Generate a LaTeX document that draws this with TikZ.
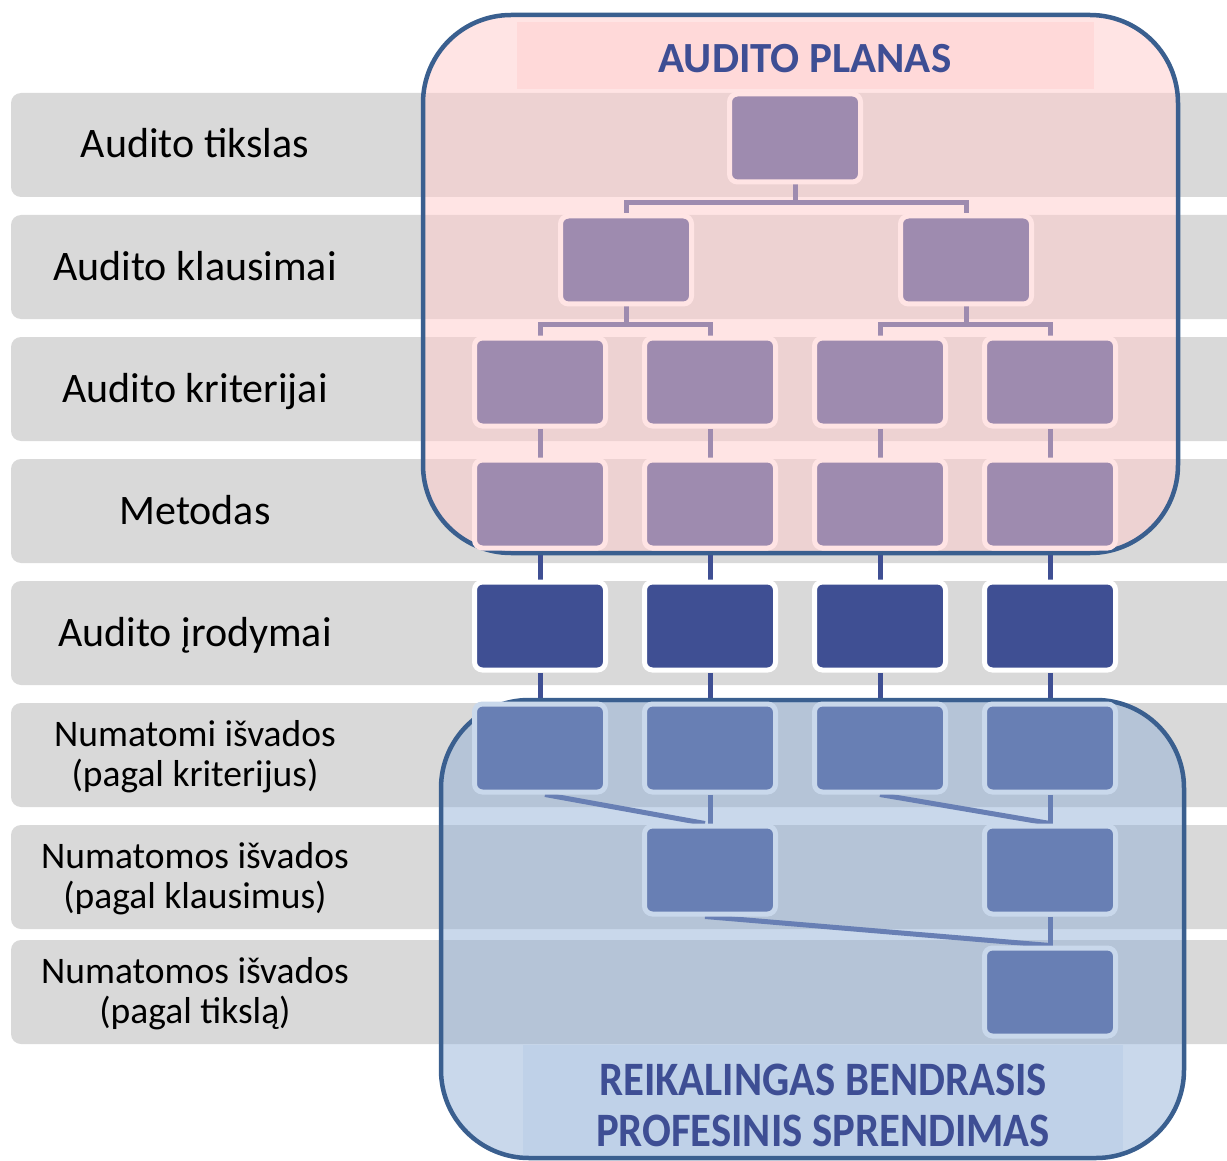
\documentclass[tikz,border=0pt]{standalone}
\usepackage{fontspec}
\setmainfont{Carlito}
\usetikzlibrary{positioning}
\definecolor{cRow}{HTML}{D9D9D9}
\definecolor{cPlanPanel}{HTML}{FFCCCC}
\definecolor{cPlanBand}{HTML}{FFD9D9}
\definecolor{cPlan}{HTML}{9E8BAF}
\definecolor{cPlanEdge}{HTML}{FFE4E4}
\definecolor{cEvid}{HTML}{3F4F93}
\definecolor{cFind}{HTML}{687FB4}
\definecolor{cFindEdge}{HTML}{C9D8EB}
\definecolor{cFindPanel}{HTML}{93B1D7}
\definecolor{cFindBand}{HTML}{BFD1E8}
\definecolor{cFrame}{HTML}{3A5F8F}
\definecolor{cTitle}{HTML}{3E4E94}
\pgfdeclarelayer{back}
\pgfdeclarelayer{mid}
\pgfsetlayers{back,mid,main}
\begin{document}
\begin{tikzpicture}[x=1pt,y=-1pt,
  cell/.style={draw=#1,line width=5pt,rounded corners=8pt,minimum width=131pt,minimum height=88pt,inner sep=0pt},
  cellplan/.style={cell=cPlanEdge,fill=cPlan},
  cellevid/.style={cell=white,fill=cEvid},
  cellfind/.style={cell=cFindEdge,fill=cFind},
  link/.style={draw=#1,line width=5pt},
  rowlabel/.style={font=\fontsize{42}{50}\selectfont,anchor=base},
  rowlabeltwo/.style={font=\fontsize{37.5}{40}\selectfont,align=center,anchor=base},
  title/.style={font=\bfseries\fontsize{43}{51}\selectfont,text=cTitle,align=center,anchor=base},
  panel/.style={draw=cFrame,line width=4.5pt,rounded corners=88pt}]
\useasboundingbox (0,0) rectangle (1227,1161);

% row labels
\node[rowlabel] (l1) at (195,158) {Audito tikslas};
\node[rowlabel] (l2) at (195,280) {Audito klausimai};
\node[rowlabel] (l3) at (195,402) {Audito kriterijai};
\node[rowlabel] (l4) at (195,524) {Metodas};
\node[rowlabel] (l5) at (195,646) {Audito įrodymai};
\node[rowlabeltwo] (l6) at (195,786) {Numatomi išvados\\(pagal kriterijus)};
\node[rowlabeltwo] (l7) at (195,908) {Numatomos išvados\\(pagal klausimus)};
\node[rowlabeltwo] (l8) at (195,1023) {Numatomos išvados\\(pagal tikslą)};

% plan boxes
\node[cellplan] (t) at (795,138) {};
\node[cellplan] (k1) at (626,260) {};
\node[cellplan] (k2) at (966,260) {};
\foreach \i/\x in {1/540,2/710,3/880,4/1050} {
  \node[cellplan] (c\i) at (\x,382) {};
  \node[cellplan] (m\i) at (\x,504) {};
  \node[cellevid] (e\i) at (\x,626) {};
  \node[cellfind] (f\i) at (\x,748) {};
}
\node[cellfind] (g1) at (710,870) {};
\node[cellfind] (g2) at (1050,870) {};
\node[cellfind] (h) at (1050,992) {};

% titles
\node[title] (plan) at (805,73) {AUDITO PLANAS};
\node[title,font=\bfseries\fontsize{48}{51}\selectfont,xscale=0.89] (judg) at (823,1095) {REIKALINGAS BENDRASIS};
\node[title,font=\bfseries\fontsize{48}{51}\selectfont,xscale=0.89] (judg2) at (823,1146) {PROFESINIS SPRENDIMAS};

\begin{pgfonlayer}{mid}
\draw[link=cPlan] (t.south) -- ++(0,18) -| (k1.north);
\draw[link=cPlan] (t.south) -- ++(0,18) -| (k2.north);
\draw[link=cPlan] (k1.south) -- ++(0,18) -| (c1.north);
\draw[link=cPlan] (k1.south) -- ++(0,18) -| (c2.north);
\draw[link=cPlan] (k2.south) -- ++(0,18) -| (c3.north);
\draw[link=cPlan] (k2.south) -- ++(0,18) -| (c4.north);
\foreach \i in {1,...,4} {
  \draw[link=cPlan] (c\i) -- (m\i);
  \draw[link=cEvid] (m\i) -- (e\i);
  \draw[link=cEvid] (e\i) -- (f\i);
}
\draw[link=cFind] ([xshift=5pt]f1.south) -- ([xshift=-5pt]g1.north);
\draw[link=cFind] (f2) -- (g1);
\draw[link=cFind] (f3.south) -- (g2.north);
\draw[link=cFind] (f4) -- (g2);
\draw[link=cFind] ([xshift=-5pt]g1.south) -- (h.north);
\draw[link=cFind] (g2) -- (h);
% panel frames
\draw[panel] (423,15) rectangle (1178,553);
\draw[panel] (441,700) rectangle (1184,1158);
\end{pgfonlayer}

\begin{pgfonlayer}{back}
\foreach \top in {93,215,337,459,581,703,825,940}
  \fill[cRow,rounded corners=10pt] (11,\top) rectangle (1250,\top+104);
\fill[cPlanPanel,fill opacity=0.53,rounded corners=88pt] (423,15) rectangle (1178,553);
\fill[cFindPanel,fill opacity=0.5,rounded corners=88pt] (441,700) rectangle (1184,1158);
\fill[cPlanBand] (517,22) rectangle (1094,89);
\fill[cFindBand] (523,1045) rectangle (1123,1156);
\end{pgfonlayer}
\end{tikzpicture}
\end{document}
